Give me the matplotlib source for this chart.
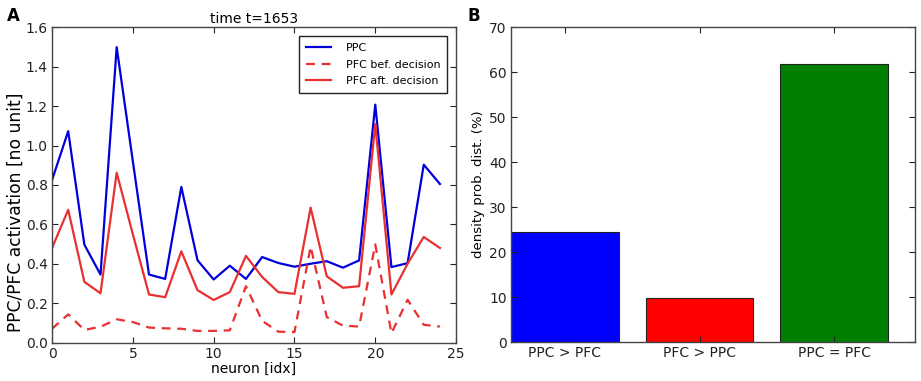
import numpy as np
import matplotlib.pyplot as plt

# panel A: activation per neuron at t=1653
neuron = np.arange(25)
ppc = [0.825, 1.073, 0.497, 0.345, 1.50, 0.92, 0.345, 0.323, 0.79, 0.418,
       0.32, 0.39, 0.323, 0.434, 0.404, 0.385, 0.40, 0.413, 0.38, 0.417,
       1.208, 0.383, 0.403, 0.903, 0.805]
pfc_bef = [0.07, 0.143, 0.064, 0.08, 0.118, 0.104, 0.076, 0.072, 0.07, 0.059,
           0.059, 0.062, 0.286, 0.11, 0.055, 0.053, 0.488, 0.129, 0.086, 0.081,
           0.498, 0.047, 0.217, 0.09, 0.081]
pfc_aft = [0.48, 0.674, 0.308, 0.25, 0.862, 0.55, 0.244, 0.23, 0.463, 0.266,
           0.216, 0.256, 0.44, 0.333, 0.256, 0.247, 0.685, 0.336, 0.278, 0.286,
           1.11, 0.244, 0.40, 0.536, 0.48]

# panel B: density prob. dist.
cats = ['PPC > PFC', 'PFC > PPC', 'PPC = PFC']
dens = [24.4, 9.8, 61.8]
bar_cols = ['#0000ff', '#ff0000', '#008000']

fs = 10
fig = plt.figure(figsize=(9.21, 3.81), dpi=100)
ax1 = fig.add_axes([0.0565, 0.101, 0.4387, 0.827])
ax2 = fig.add_axes([0.5548, 0.102, 0.4387, 0.827])

ax1.plot(neuron, ppc, color='#0000dd', lw=1.6, label='PPC')
ax1.plot(neuron, pfc_bef, color='#e83030', lw=1.6, dashes=(4, 3), label='PFC bef. decision')
ax1.plot(neuron, pfc_aft, color='#e83030', lw=1.6, label='PFC aft. decision')
ax1.set_xlim(0, 25)
ax1.set_ylim(0, 1.6)
ax1.set_xticks(np.arange(0, 26, 5))
ax1.set_yticks(np.arange(0, 1.61, 0.2))
ax1.set_yticklabels(['%.1f' % v for v in np.arange(0, 1.61, 0.2)])
ax1.set_xlabel('neuron [idx]', fontsize=fs, labelpad=1)
ax1.set_ylabel('PPC/PFC activation [no unit]', fontsize=12.3)
ax1.yaxis.set_label_coords(-0.068, 0.415)
ax1.set_title('time t=1653', fontsize=fs, pad=3)
leg = ax1.legend(loc='upper right', fontsize=8, fancybox=False, framealpha=1,
                 handlelength=2.3, handletextpad=1.3, borderaxespad=0.8,
                 labelspacing=0.6, borderpad=0.6)
leg.get_frame().set_edgecolor('#222222')

ax2.bar(np.arange(3), dens, width=0.8, color=bar_cols, edgecolor='#222222', lw=0.8)
ax2.set_xlim(-0.4, 2.6)
ax2.set_ylim(0, 70)
ax2.set_xticks(np.arange(3))
ax2.set_xticklabels(cats)
ax2.set_yticks(np.arange(0, 71, 10))
ax2.set_ylabel('density prob. dist. (%)', fontsize=9.5, labelpad=3)

for ax in (ax1, ax2):
    ax.tick_params(direction='in', top=True, right=True, labelsize=fs,
                   length=4, width=0.8, colors='#222222', pad=3)
    for s in ax.spines.values():
        s.set_color('#444444')
        s.set_linewidth(1.0)

fig.text(0.008, 0.944, 'A', fontsize=12, fontweight='bold')
fig.text(0.508, 0.944, 'B', fontsize=12, fontweight='bold')

fig.savefig('out.png', dpi=100)
